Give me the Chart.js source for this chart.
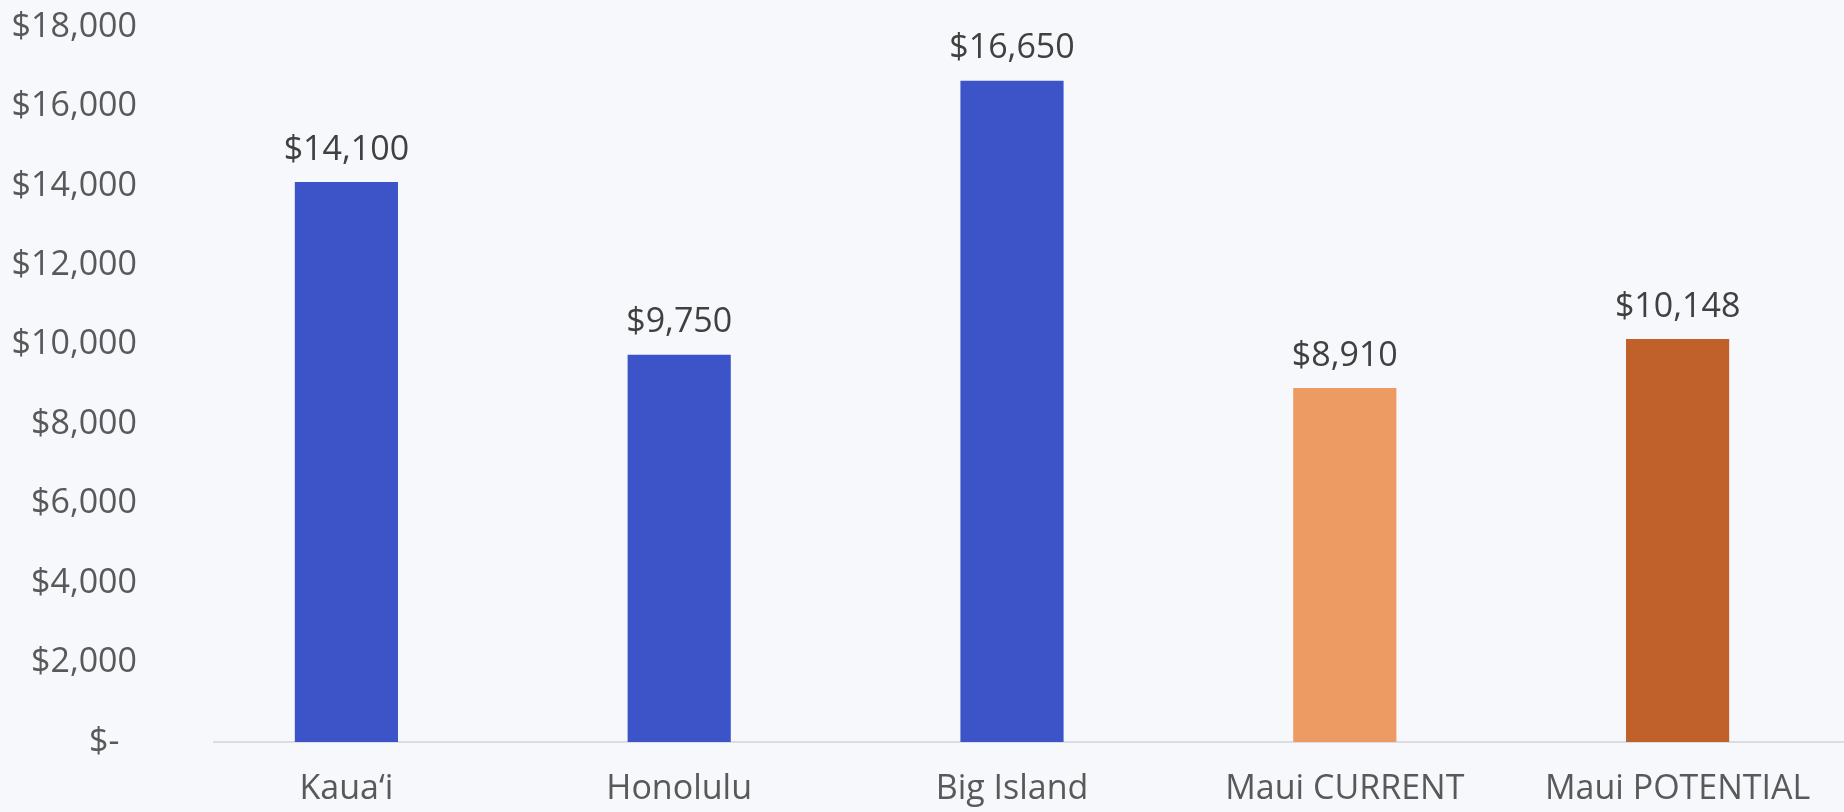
<!DOCTYPE html>
<html>
<head>
<meta charset="utf-8">
<script src="https://cdn.jsdelivr.net/npm/chart.js@4/dist/chart.umd.min.js"></script>
<style>
  html, body { margin: 0; padding: 0; background: #f7f8fb; overflow: hidden; }
  #wrap { width: 1844px; height: 812px; position: relative; }
  #c { position: absolute; left: 0; top: 0; }
</style>
</head>
<body>
<div id="wrap"><canvas id="c" width="1844" height="812"></canvas></div>
<script>
const categories = ["Kaua\u2018i", "Honolulu", "Big Island", "Maui CURRENT", "Maui POTENTIAL"];
const values = [14100, 9750, 16650, 8910, 10148];
const barColors = ["#3c54c8", "#3c54c8", "#3c54c8", "#ee9b63", "#c0602b"];
const yTickValues = [0, 2000, 4000, 6000, 8000, 10000, 12000, 14000, 16000, 18000];

const FONT = "'Open Sans', Lato, sans-serif";

function money(v) {
  if (v === 0) return "$-  ";
  return "$" + v.toLocaleString("en-US");
}

const dataLabels = {
  id: "dataLabels",
  afterDatasetsDraw(chart) {
    const ctx = chart.ctx;
    const meta = chart.getDatasetMeta(0);
    ctx.save();
    ctx.font = "34px " + FONT;
    ctx.fillStyle = "#404040";
    ctx.textAlign = "center";
    ctx.textBaseline = "middle";
    meta.data.forEach((bar, i) => {
      ctx.fillText(money(values[i]), bar.x, bar.y - 32);
    });
    ctx.restore();
  }
};

const baseLine = {
  id: "baseLine",
  beforeDatasetsDraw(chart) {
    const ctx = chart.ctx;
    const area = chart.chartArea;
    const y = chart.scales.y.getPixelForValue(0);
    ctx.save();
    ctx.strokeStyle = "#d3d5da";
    ctx.lineWidth = 1.5;
    ctx.beginPath();
    ctx.moveTo(area.left + 33, y);
    ctx.lineTo(area.right, y);
    ctx.stroke();
    ctx.restore();
  }
};

new Chart(document.getElementById("c"), {
  type: "bar",
  data: {
    labels: categories,
    datasets: [{
      data: values,
      backgroundColor: barColors,
      borderWidth: 0,
      barPercentage: 0.31,
      categoryPercentage: 1.0
    }]
  },
  options: {
    responsive: false,
    animation: false,
    layout: { padding: { top: 27, right: 0, bottom: 0, left: 0 } },
    plugins: { legend: { display: false }, tooltip: { enabled: false } },
    scales: {
      x: {
        grid: { display: false, drawTicks: false },
        border: { display: false },
        ticks: { font: { size: 34, family: FONT }, color: "#595959", padding: 27, maxRotation: 0 },
        afterFit(axis) { axis.height = 70; axis.paddingLeft = 0; axis.paddingRight = 0; }
      },
      y: {
        min: 0, max: 18000,
        afterBuildTicks(axis) { axis.ticks = yTickValues.map(v => ({ value: v })); },
        grid: { display: false, drawTicks: false },
        border: { display: false },
        ticks: {
          font: { size: 34, family: FONT }, color: "#595959", padding: 43,
          callback: (v) => money(v)
        },
        afterFit(axis) { axis.width = 180; axis.paddingTop = 0; axis.paddingBottom = 0; }
      }
    }
  },
  plugins: [baseLine, dataLabels]
});
</script>
</body>
</html>
